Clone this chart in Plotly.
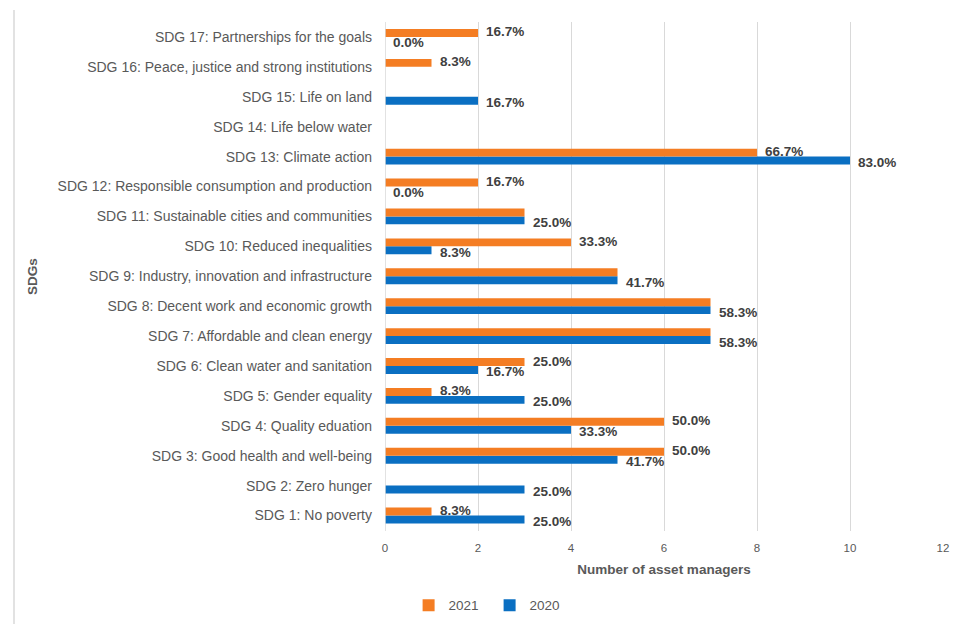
import plotly.graph_objects as go

categories = [
    "SDG 1: No poverty",
    "SDG 2: Zero hunger",
    "SDG 3: Good health and well-being",
    "SDG 4: Quality eduation",
    "SDG 5: Gender equality",
    "SDG 6: Clean water and sanitation",
    "SDG 7: Affordable and clean energy",
    "SDG 8: Decent work and economic growth",
    "SDG 9: Industry, innovation and infrastructure",
    "SDG 10: Reduced inequalities",
    "SDG 11: Sustainable cities and communities",
    "SDG 12: Responsible consumption and production",
    "SDG 13: Climate action",
    "SDG 14: Life below water",
    "SDG 15: Life on land",
    "SDG 16: Peace, justice and strong institutions",
    "SDG 17: Partnerships for the goals",
]
values_2021 = [1, None, 6, 6, 1, 3, 7, 7, 5, 4, 3, 2, 8, None, None, 1, 2]
values_2020 = [3, 3, 5, 4, 3, 2, 7, 7, 5, 1, 3, 0, 10, None, 2, None, 0]
labels_2021 = ["8.3%", None, "50.0%", "50.0%", "8.3%", "25.0%", None, None, None,
               "33.3%", None, "16.7%", "66.7%", None, None, "8.3%", "16.7%"]
labels_2020 = ["25.0%", "25.0%", "41.7%", "33.3%", "25.0%", "16.7%", "58.3%", "58.3%",
               "41.7%", "8.3%", "25.0%", "0.0%", "83.0%", None, "16.7%", None, "0.0%"]
x_ticks = [0, 2, 4, 6, 8, 10, 12]

C2021 = "#F47D23"
C2020 = "#0A6FC2"
FONT = "Liberation Sans"

W, H = 960, 624
ML, MR, MT, MB = 385, 17, 22, 93
BARGAP = 0.47
cat_px = (H - MT - MB) / len(categories)
half = (1 - BARGAP) / 4 * cat_px  # offset of each bar centre from category centre

fig = go.Figure()
fig.add_trace(go.Bar(y=categories, x=values_2020, name="2020", orientation="h",
                     marker=dict(color=C2020, line=dict(width=0)), legendrank=2))
fig.add_trace(go.Bar(y=categories, x=values_2021, name="2021", orientation="h",
                     marker=dict(color=C2021, line=dict(width=0)), legendrank=1))

lab_font = dict(family=FONT, size=13.5, color="#404040", weight="bold")
annotations = []
for cat, v, lab in zip(categories, values_2021, labels_2021):
    if lab is not None:
        annotations.append(dict(x=v, y=cat, text=lab, xref="x", yref="y", showarrow=False,
                                xanchor="left", yanchor="middle", xshift=6, yshift=half + 1,
                                font=lab_font))
for cat, v, lab in zip(categories, values_2020, labels_2020):
    if lab is not None:
        annotations.append(dict(x=v, y=cat, text=lab, xref="x", yref="y", showarrow=False,
                                xanchor="left", yanchor="middle", xshift=6, yshift=-half - 2,
                                font=lab_font))

pw = W - ML - MR
ph = H - MT - MB
fig.update_layout(
    width=W, height=H,
    margin=dict(l=ML, r=MR, t=MT, b=MB),
    barmode="group", bargap=BARGAP, bargroupgap=0,
    plot_bgcolor="white", paper_bgcolor="white",
    font=dict(family=FONT, color="#595959"),
    annotations=annotations,
    legend=dict(orientation="h", xref="container", x=0.51, xanchor="center",
                yref="container", y=0.005, yanchor="bottom", entrywidth=36,
                font=dict(size=13.5, color="#595959"), itemwidth=30, traceorder="normal"),
    xaxis=dict(range=[0, 12], tickvals=x_ticks, showgrid=True, gridcolor="#D9D9D9",
               gridwidth=1, zeroline=False, showline=False,
               tickfont=dict(size=11.5, color="#595959"), ticks="", ticklabelstandoff=8,
               title=dict(text="<b>Number of asset managers</b>",
                          font=dict(size=13.5, color="#595959"), standoff=12)),
    yaxis=dict(categoryorder="array", categoryarray=categories, showgrid=False,
               zeroline=False, showline=False, ticks="", ticklabelstandoff=12,
               tickfont=dict(size=14, color="#595959"),
               title=dict(text="<b>SDGs</b>", font=dict(size=13.5, color="#595959"), standoff=16)),
    shapes=[
        dict(type="line", xref="paper", yref="paper",
             x0=(14 - ML) / pw, x1=(14 - ML) / pw,
             y0=-(H - MT - ph) / ph, y1=(ph + MT - 10) / ph,
             line=dict(color="#D9D9D9", width=1.5)),
        dict(type="line", xref="x", yref="paper", x0=0, x1=0, y0=0, y1=1,
             line=dict(color="#D9D9D9", width=1.5)),
    ],
)
fig.write_html("out.html")
